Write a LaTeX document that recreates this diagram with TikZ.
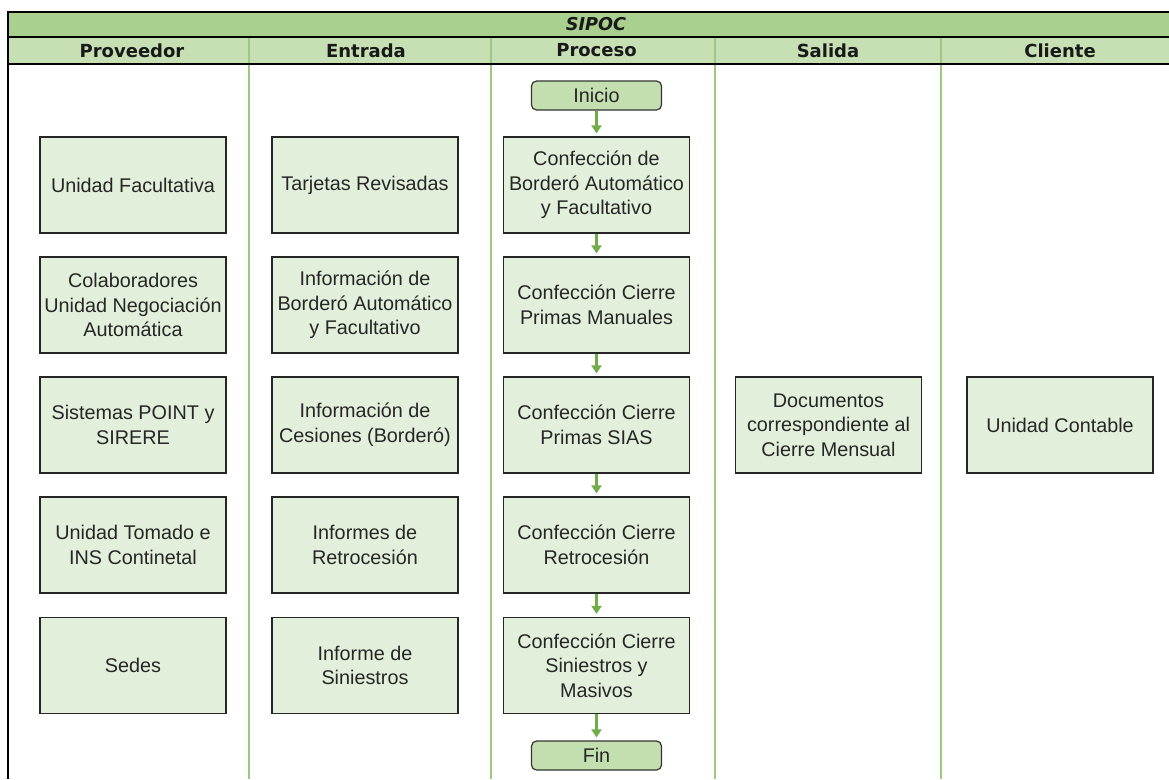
\documentclass[tikz,border=0pt]{standalone}
\usepackage{fontspec}
\setmainfont{Liberation Sans}
\newfontfamily\headfont{DejaVu Sans}
\usetikzlibrary{arrows.meta}
\definecolor{barGreen}{HTML}{A9D08E}
\definecolor{headGreen}{HTML}{C6E0B4}
\definecolor{boxGreen}{HTML}{E2EFDA}
\definecolor{termGreen}{HTML}{C4DFAF}
\definecolor{arrowGreen}{HTML}{70AD47}
\definecolor{laneGreen}{HTML}{9CC97F}
\definecolor{ink}{HTML}{262626}
\begin{document}
\begin{tikzpicture}[x=1pt,y=-1pt,
  stepbox/.style={draw=black!85, line width=1.3pt, fill=boxGreen,
    minimum width=186pt, minimum height=96pt, align=center, text=ink,
    font=\fontsize{19.8}{24.5}\selectfont, inner sep=0pt},
  term/.style={draw=black!80, line width=1.2pt, fill=termGreen,
    rounded corners=5pt, minimum width=130pt, minimum height=29pt,
    text=ink, font=\fontsize{19.8}{24.5}\selectfont, inner sep=0pt},
  flow/.style={-{Triangle[length=8pt,width=10pt]}, draw=arrowGreen,
    line width=2.6pt, shorten >=3pt},
  head/.style={font=\headfont\bfseries\fontsize{18}{20}\selectfont, text=black!90, inner sep=0pt},
  lane/.style={draw=laneGreen, line width=1.4pt}]

\useasboundingbox (0,0) rectangle (1169,779);
\fill[white] (0,0) rectangle (1169,779);

% title bar and column header row
\fill[barGreen] (8,12) rectangle (1169,37);
\fill[headGreen] (8,37) rectangle (1169,64);

% lane separators
\foreach \lx in {249,491,715,941}
  \draw[lane] (\lx,37) -- (\lx,779);

% frame and header rules
\draw[black, line width=2.6pt] (1169,12) -- (8,12) -- (8,779);
\draw[black, line width=2pt] (8,37) -- (1169,37);
\draw[black, line width=2pt] (8,64) -- (1169,64);

% headings
\node[head, font=\headfont\bfseries\itshape\fontsize{17.7}{20}\selectfont] (title) at (596,24.5) {SIPOC};
\node[head] (hP) at (132,50.5) {Proveedor};
\node[head] (hE) at (366,50.5) {Entrada};
\node[head] (hC) at (596.5,50.5) {Proceso};
\node[head] (hS) at (828,50.5) {Salida};
\node[head] (hK) at (1060,50.5) {Cliente};

% Proveedor
\node[stepbox] (p1) at (133,185) {Unidad Facultativa};
\node[stepbox] (p2) at (133,305) {Colaboradores\\Unidad Negociación\\Automática};
\node[stepbox] (p3) at (133,425) {Sistemas POINT y\\SIRERE};
\node[stepbox] (p4) at (133,545) {Unidad Tomado e\\INS Continetal};
\node[stepbox] (p5) at (133,665.5) {Sedes};

% Entrada
\node[stepbox] (e1) at (365,185) {Tarjetas Revisadas};
\node[stepbox] (e2) at (365,305) {Información de\\Borderó Automático\\y Facultativo};
\node[stepbox] (e3) at (365,425) {Información de\\Cesiones (Borderó)};
\node[stepbox] (e4) at (365,545) {Informes de\\Retrocesión};
\node[stepbox] (e5) at (365,665.5) {Informe de\\Siniestros};

% Proceso
\node[term] (c0) at (596.5,95.5) {Inicio};
\node[stepbox] (c1) at (596.5,185) {Confección de\\Borderó Automático\\y Facultativo};
\node[stepbox] (c2) at (596.5,305) {Confección Cierre\\Primas Manuales};
\node[stepbox] (c3) at (596.5,425) {Confección Cierre\\Primas SIAS};
\node[stepbox] (c4) at (596.5,545) {Confección Cierre\\Retrocesión};
\node[stepbox] (c5) at (596.5,665.5) {Confección Cierre\\Siniestros y\\Masivos};
\node[term] (cf) at (596.5,755.5) {Fin};

% Salida and Cliente
\node[stepbox] (s1) at (828.5,425) {Documentos\\correspondiente al\\Cierre Mensual};
\node[stepbox] (k1) at (1060,425) {Unidad Contable};

% process flow
\draw[flow] (c0) -- (c1);
\draw[flow] (c1) -- (c2);
\draw[flow] (c2) -- (c3);
\draw[flow] (c3) -- (c4);
\draw[flow] (c4) -- (c5);
\draw[flow] (c5) -- (cf);
\end{tikzpicture}
\end{document}
